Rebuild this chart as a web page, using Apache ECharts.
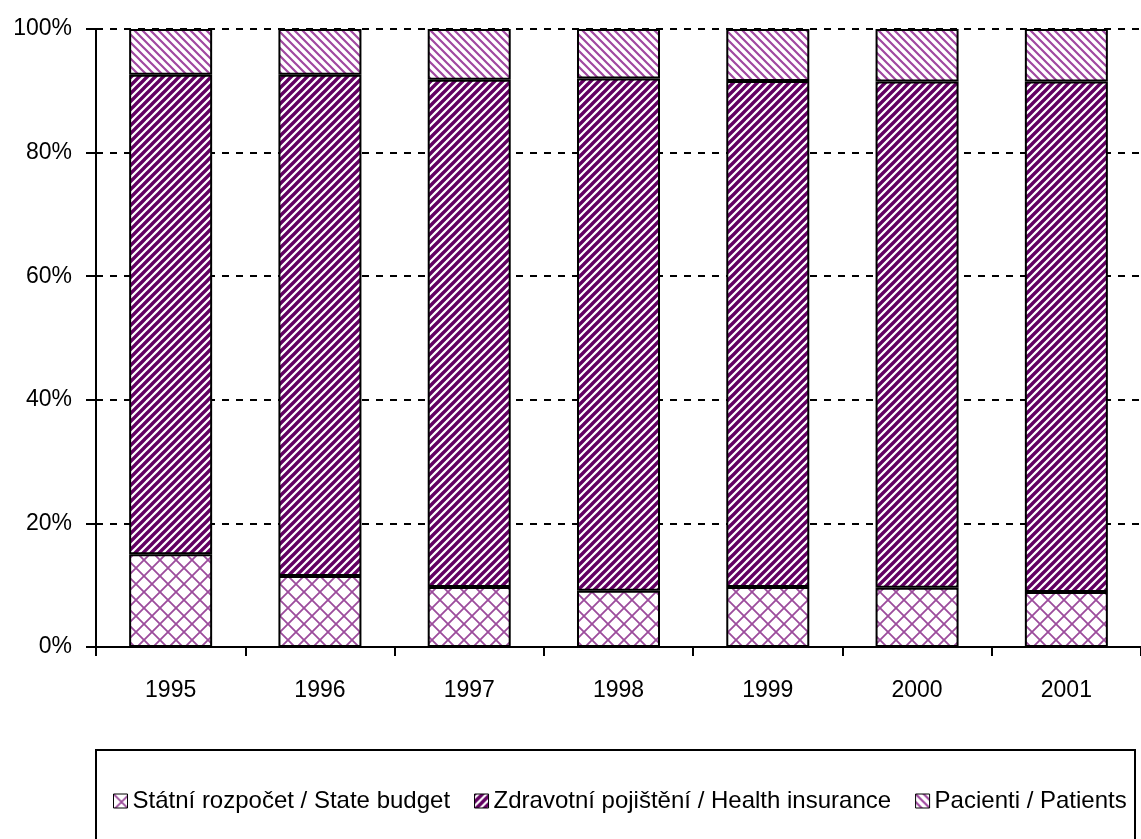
<!DOCTYPE html>
<html>
<head>
<meta charset="utf-8">
<script src="https://cdn.jsdelivr.net/npm/echarts@6/dist/echarts.min.js"></script>
<style>
html,body{margin:0;padding:0;background:#fff;}
#chart{width:1141px;height:839px;}
</style>
</head>
<body>
<div id="chart"></div>
<script>
var years = ['1995','1996','1997','1998','1999','2000','2001'];
var stateBudget = [15.0, 11.5, 9.7, 9.1, 9.7, 9.6, 8.9];
var healthInsurance = [77.6, 81.1, 82.1, 82.9, 81.9, 81.9, 82.6];
var patients = [7.4, 7.4, 8.2, 8.0, 8.4, 8.5, 8.5];
var seriesNames = ['Státní rozpočet / State budget', 'Zdravotní pojištění / Health insurance', 'Pacienti / Patients'];
var yTicks = [0, 20, 40, 60, 80, 100];

var FONT = "'Liberation Sans',Arial,sans-serif";

function crossPattern() {
  var s = 16, c = document.createElement('canvas');
  c.width = s; c.height = s;
  var g = c.getContext('2d');
  g.fillStyle = '#fff'; g.fillRect(0, 0, s, s);
  g.strokeStyle = '#9c4c9c'; g.lineWidth = 1.8;
  g.beginPath();
  g.moveTo(0, 0); g.lineTo(s, s);
  g.moveTo(s, 0); g.lineTo(0, s);
  g.stroke();
  return c;
}
function stripePattern(dir, color, lw, s) {
  var c = document.createElement('canvas');
  c.width = s; c.height = s;
  var g = c.getContext('2d');
  g.fillStyle = '#fff'; g.fillRect(0, 0, s, s);
  g.strokeStyle = color; g.lineWidth = lw;
  g.beginPath();
  if (dir === '/') {
    g.moveTo(-s, s); g.lineTo(s, -s);
    g.moveTo(0, s); g.lineTo(s, 0);
    g.moveTo(0, 2 * s); g.lineTo(2 * s, 0);
  } else {
    g.moveTo(-s, 0); g.lineTo(s, 2 * s);
    g.moveTo(0, 0); g.lineTo(s, s);
    g.moveTo(0, -s); g.lineTo(2 * s, s);
  }
  g.stroke();
  return c;
}

var pState = {image: crossPattern(), repeat: 'repeat'};
var pHealth = {image: stripePattern('/', '#620062', 3.4, 8), repeat: 'repeat'};
var pPatients = {image: stripePattern('\\', '#a048a0', 2.2, 8), repeat: 'repeat'};

var chart = echarts.init(document.getElementById('chart'), null, {renderer: 'canvas'});

function mkSeries(name, data, pat) {
  return {
    name: name,
    type: 'bar',
    stack: 'total',
    data: data,
    barWidth: '55.6%',
    itemStyle: {color: pat, borderColor: '#000', borderWidth: 2},
    emphasis: {disabled: true},
    animation: false
  };
}

chart.setOption({
  animation: false,
  backgroundColor: '#fff',
  grid: {left: 96, top: 29, bottom: 192, right: -12, containLabel: false},
  xAxis: {
    type: 'category',
    data: years,
    axisLine: {lineStyle: {color: '#000', width: 2}},
    axisTick: {show: true, length: 9, lineStyle: {color: '#000', width: 2}},
    axisLabel: {color: '#000', fontFamily: FONT, fontSize: 23, margin: 32}
  },
  yAxis: {
    type: 'value',
    min: yTicks[0],
    max: yTicks[yTicks.length - 1],
    interval: yTicks[1] - yTicks[0],
    axisLine: {show: true, lineStyle: {color: '#000', width: 2}},
    axisTick: {show: true, length: 10, lineStyle: {color: '#000', width: 2}},
    axisLabel: {color: '#000', fontFamily: FONT, fontSize: 23, margin: 24, formatter: '{value}%'},
    splitLine: {show: true, lineStyle: {color: '#000', width: 2, type: [7, 7]}}
  },
  legend: {
    data: seriesNames,
    left: 108,
    top: 784,
    icon: 'rect',
    itemWidth: 14,
    itemHeight: 14,
    itemGap: 24,
    itemStyle: {borderColor: '#000', borderWidth: 1},
    textStyle: {color: '#000', fontFamily: FONT, fontSize: 24},
    selectedMode: false
  },
  graphic: [{
    type: 'rect',
    shape: {x: 96, y: 750, width: 1039, height: 120},
    style: {fill: 'none', stroke: '#000', lineWidth: 2},
    silent: true
  }],
  series: [
    mkSeries(seriesNames[0], stateBudget, pState),
    mkSeries(seriesNames[1], healthInsurance, pHealth),
    mkSeries(seriesNames[2], patients, pPatients)
  ]
});
</script>
</body>
</html>
